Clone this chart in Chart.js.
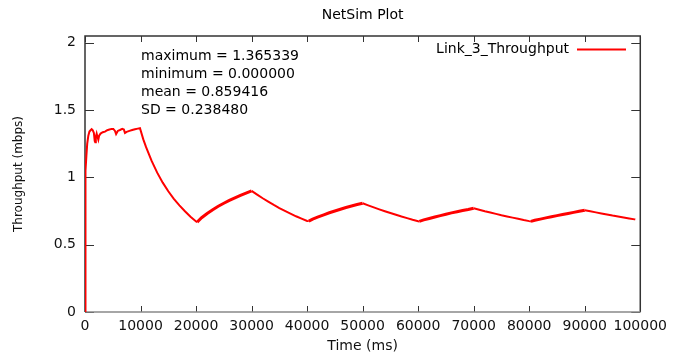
<!DOCTYPE html>
<html>
<head>
<meta charset="utf-8">
<script src="https://cdn.jsdelivr.net/npm/chart.js@4/dist/chart.umd.min.js"></script>
<style>
  html, body { margin: 0; padding: 0; background: #fff; }
  #wrap { width: 673px; height: 359px; }
</style>
</head>
<body>
<div id="wrap"><canvas id="plot" width="673" height="359"></canvas></div>
<script>
// Link_3 cumulative throughput samples (time in ms, throughput in mbps)
const timeMs = [
  0, 30, 80, 150, 250, 400, 600, 800, 1000, 1200, 1400, 1600, 1750, 1850, 1950,
  2100, 2250, 2400, 2550, 2800, 3200, 3600, 4000, 4400, 4800, 5100, 5400, 5600,
  5900, 6300, 6700, 7000, 7200, 7500, 8000, 8500, 9000, 9500, 9900,
  10500, 11000, 12000, 13000, 14000, 15000, 16000, 17000, 18000, 19000, 20000,
  20200, 21000, 22000, 23000, 24000, 25000, 26000, 27000, 28000, 29000, 30000,
  31000, 32000, 33000, 34000, 35000, 36000, 37000, 38000, 39000, 40000,
  40300, 41000, 42000, 43000, 44000, 45000, 46000, 47000, 48000, 49000, 50000,
  51000, 52000, 53000, 54000, 55000, 56000, 57000, 58000, 59000, 60000,
  60200, 61000, 62000, 63000, 64000, 65000, 66000, 67000, 68000, 69000, 70000,
  71000, 72000, 73000, 74000, 75000, 76000, 77000, 78000, 79000, 80000,
  80300, 81000, 82000, 83000, 84000, 85000, 86000, 87000, 88000, 89000, 90000,
  91000, 92000, 93000, 94000, 95000, 96000, 97000, 98000, 99000, 99100
];
const throughput = [
  0, 0.45, 0.85, 1.05, 1.16, 1.25, 1.31, 1.34, 1.35, 1.358, 1.35, 1.33, 1.27, 1.26, 1.30,
  1.325, 1.30, 1.28, 1.31, 1.325, 1.335, 1.34, 1.35, 1.355, 1.36, 1.36, 1.345, 1.322,
  1.345, 1.352, 1.36, 1.355, 1.33, 1.338, 1.345, 1.352, 1.358, 1.362, 1.365,
  1.282, 1.224, 1.122, 1.035, 0.961, 0.897, 0.841, 0.792, 0.748, 0.708, 0.672,
  0.668, 0.700, 0.732, 0.760, 0.785, 0.808, 0.829, 0.848, 0.866, 0.883, 0.900,
  0.872, 0.845, 0.820, 0.795, 0.772, 0.751, 0.731, 0.711, 0.693, 0.676,
  0.675, 0.690, 0.706, 0.722, 0.737, 0.750, 0.763, 0.776, 0.787, 0.798, 0.808,
  0.792, 0.777, 0.762, 0.748, 0.735, 0.722, 0.709, 0.697, 0.685, 0.674,
  0.673, 0.684, 0.695, 0.706, 0.716, 0.726, 0.736, 0.745, 0.754, 0.762, 0.771,
  0.760, 0.749, 0.739, 0.729, 0.719, 0.710, 0.701, 0.692, 0.683, 0.675,
  0.673, 0.681, 0.690, 0.699, 0.708, 0.716, 0.724, 0.732, 0.740, 0.748, 0.756,
  0.748, 0.740, 0.732, 0.724, 0.716, 0.709, 0.702, 0.695, 0.688, 0.687
];

const xTicks = [0, 10000, 20000, 30000, 40000, 50000, 60000, 70000, 80000, 90000, 100000];
const yTicks = [0, 0.5, 1, 1.5, 2];

const seriesName = 'Link_3_Throughput';
const statLines = [
  'maximum = 1.365339',
  'minimum = 0.000000',
  'mean = 0.859416',
  'SD = 0.238480'
];

const FONT = '"DejaVu Sans", Verdana, sans-serif';
const RED = '#ff0000';

// Frame with inward ticks on all four sides (mirrored like gnuplot)
const framePlugin = {
  id: 'frame',
  beforeDatasetsDraw(chart) {
    const { ctx, chartArea: a, scales: { x, y } } = chart;
    ctx.save();
    ctx.lineWidth = 1;
    // ticks
    ctx.strokeStyle = '#333';
    ctx.beginPath();
    xTicks.forEach(v => {
      const px = Math.round(x.getPixelForValue(v)) + 0.5;
      ctx.moveTo(px, a.bottom); ctx.lineTo(px, a.bottom - 6);
      ctx.moveTo(px, a.top); ctx.lineTo(px, a.top + 6);
    });
    yTicks.forEach(v => {
      const py = Math.round(y.getPixelForValue(v)) + 0.5;
      ctx.moveTo(a.left, py); ctx.lineTo(a.left + 9, py);
      ctx.moveTo(a.right, py); ctx.lineTo(a.right - 9, py);
    });
    ctx.stroke();
    // border
    ctx.lineWidth = 1.5;
    ctx.strokeStyle = '#333';
    ctx.beginPath();
    ctx.moveTo(a.left, a.bottom);
    ctx.lineTo(a.left, a.top);
    ctx.lineTo(a.right, a.top);
    ctx.lineTo(a.right, a.bottom);
    ctx.stroke();
    ctx.strokeStyle = '#888';
    ctx.beginPath();
    ctx.moveTo(a.left, a.bottom);
    ctx.lineTo(a.right, a.bottom);
    ctx.stroke();
    ctx.restore();
  },
  afterDraw(chart) {
    const { ctx, chartArea: a } = chart;
    ctx.save();
    ctx.fillStyle = '#000';
    ctx.font = '14px ' + FONT;
    // plot title
    ctx.textAlign = 'center';
    ctx.textBaseline = 'middle';
    ctx.fillText('NetSim Plot', (a.left + a.right) / 2, 15);
    // statistics block
    ctx.textAlign = 'left';
    statLines.forEach((s, i) => ctx.fillText(s, 141, 56 + i * 18));
    // key
    ctx.textAlign = 'right';
    ctx.fillText(seriesName, 569, 49);
    ctx.strokeStyle = RED;
    ctx.lineWidth = 2;
    ctx.beginPath();
    ctx.moveTo(577, 49.5);
    ctx.lineTo(626, 49.5);
    ctx.stroke();
    ctx.restore();
  }
};

new Chart(document.getElementById('plot'), {
  type: 'line',
  data: {
    datasets: [{
      label: seriesName,
      data: timeMs.map((t, i) => ({ x: t, y: throughput[i] })),
      borderColor: RED,
      borderWidth: 2,
      pointRadius: 0,
      tension: 0,
      fill: false,
      segment: {
        // sending periods carry packet-level jitter, drawn as a heavier stroke
        borderWidth: c => (c.p1.parsed.x > 15000 && c.p1.parsed.y > c.p0.parsed.y) ? 3 : 2
      }
    }]
  },
  options: {
    responsive: false,
    animation: false,
    layout: { padding: { left: 0, right: 30, top: 36, bottom: 0 } },
    plugins: { legend: { display: false }, title: { display: false }, tooltip: { enabled: false } },
    scales: {
      x: {
        type: 'linear',
        min: 0,
        max: 100000,
        afterBuildTicks: s => { s.ticks = xTicks.map(v => ({ value: v })); },
        afterFit: s => { s.height = 47; },
        grid: { display: false, drawTicks: false },
        border: { display: false },
        ticks: {
          padding: 6,
          maxRotation: 0,
          autoSkip: false,
          color: '#111',
          font: { family: FONT, size: 14 },
          callback: v => String(v)
        },
        title: {
          display: true,
          text: 'Time (ms)',
          color: '#111',
          font: { family: FONT, size: 14 },
          padding: { top: 0, bottom: 4 }
        }
      },
      y: {
        min: 0,
        max: 2.05,
        afterBuildTicks: s => { s.ticks = yTicks.map(v => ({ value: v })); },
        afterFit: s => { s.width = 85; },
        grid: { display: false, drawTicks: false },
        border: { display: false },
        ticks: {
          padding: 9,
          color: '#111',
          font: { family: FONT, size: 14 },
          callback: v => String(v)
        },
        title: {
          display: true,
          text: 'Throughput (mbps)',
          color: '#111',
          font: { family: FONT, size: 12 },
          padding: { top: 12, bottom: 0 }
        }
      }
    }
  },
  plugins: [framePlugin]
});
</script>
</body>
</html>
